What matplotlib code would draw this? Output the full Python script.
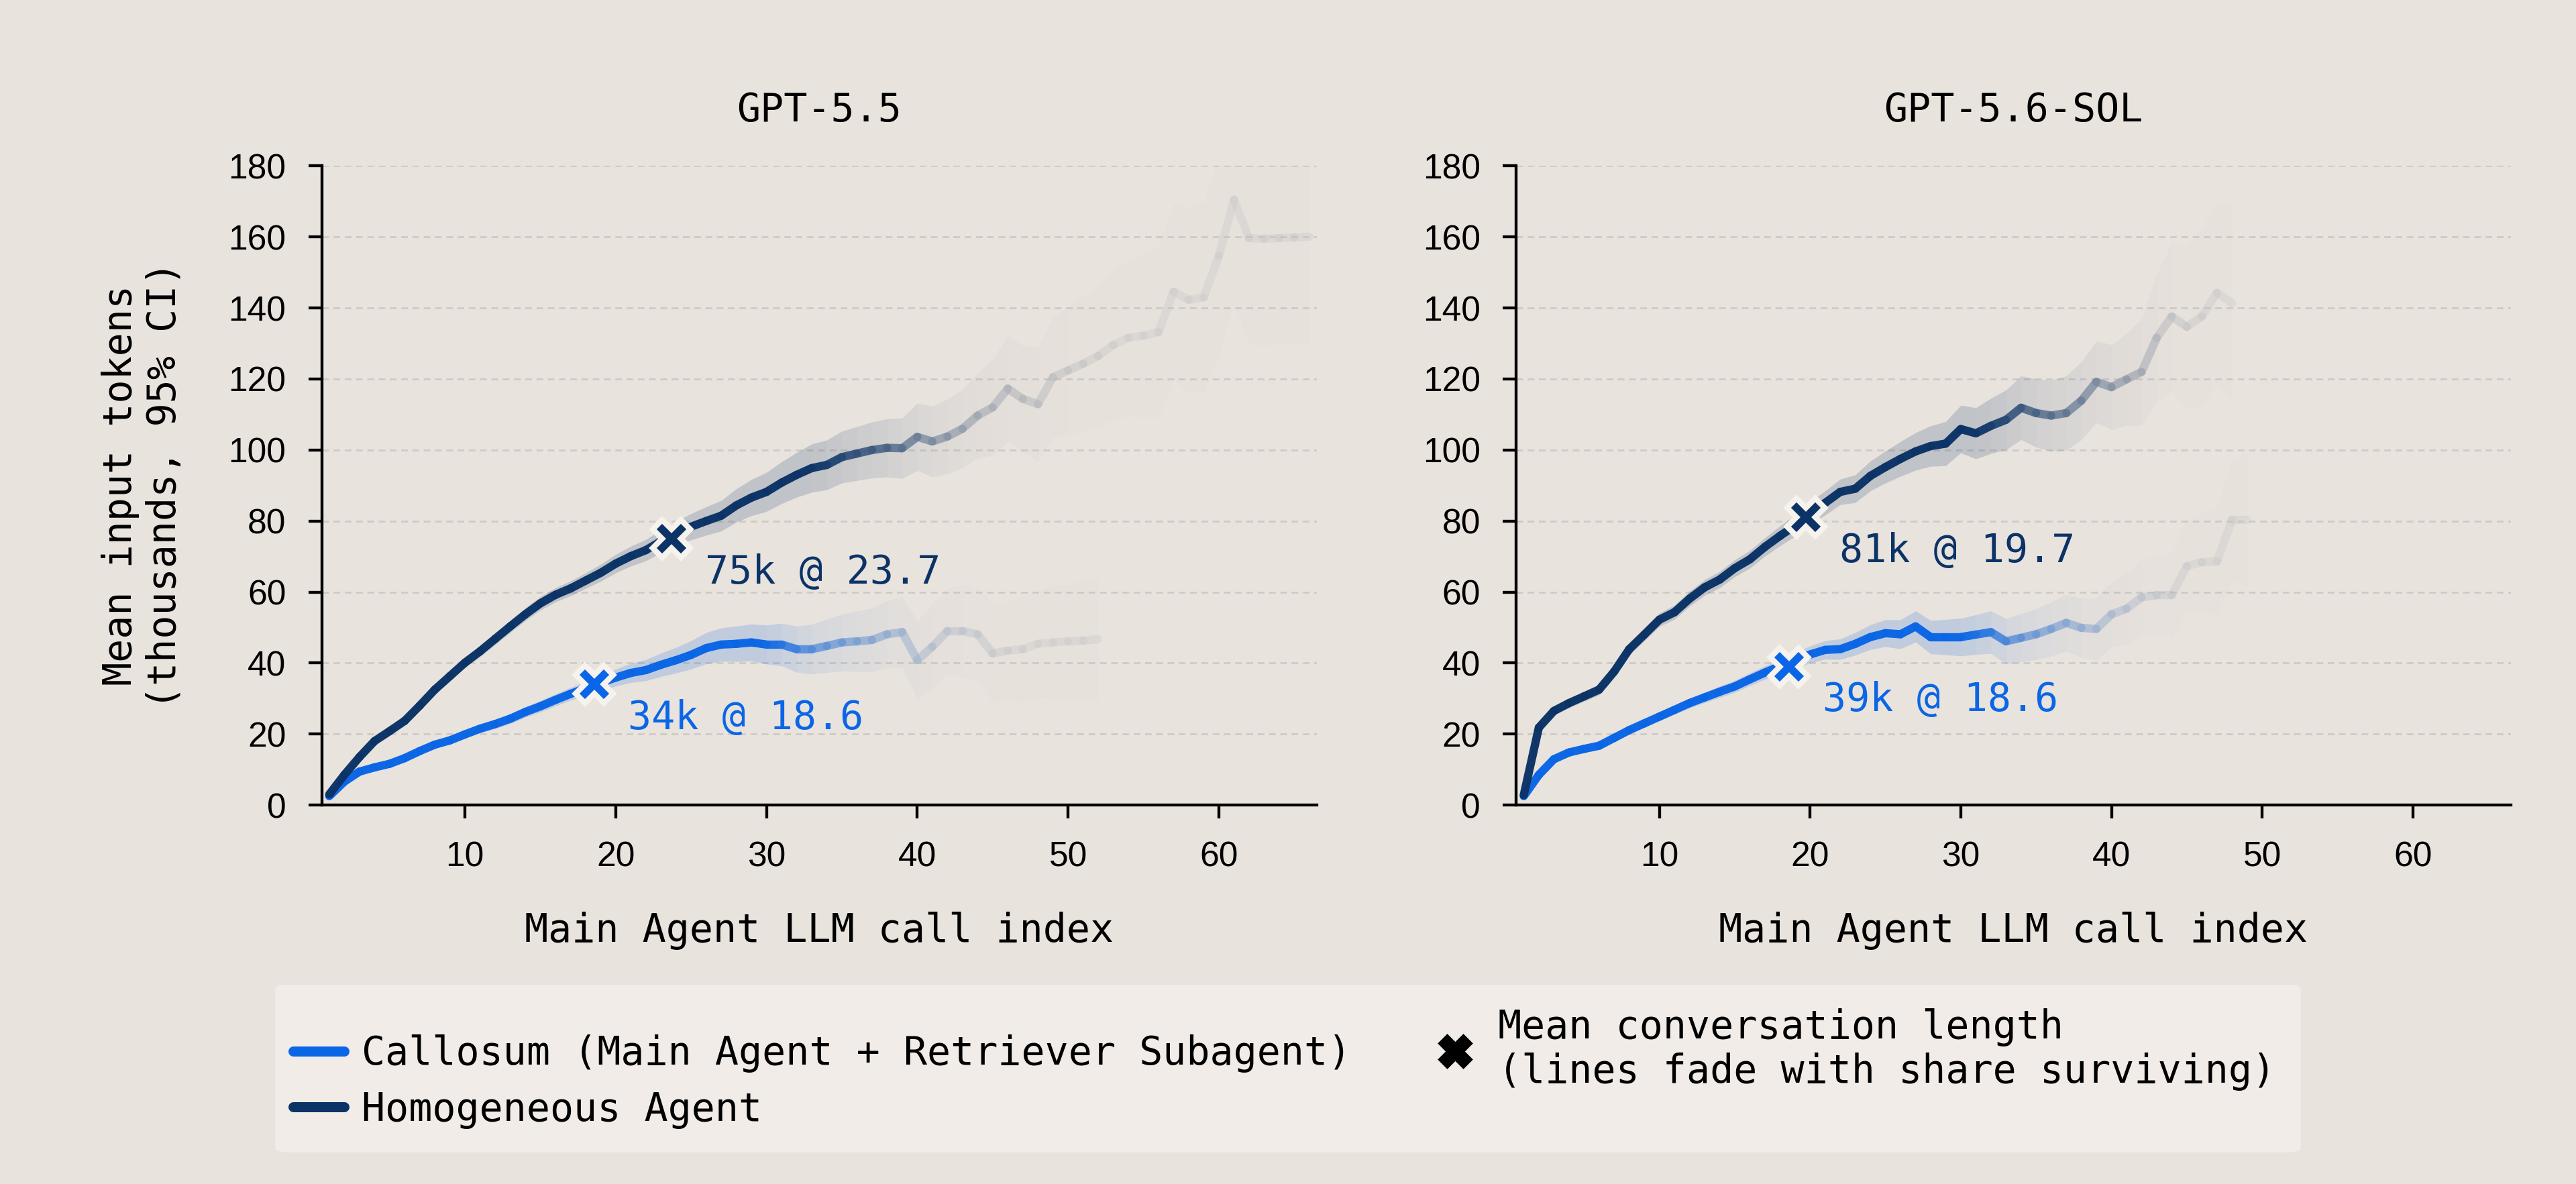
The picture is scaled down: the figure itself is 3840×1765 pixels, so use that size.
import numpy as np
import matplotlib.pyplot as plt
from matplotlib.colors import to_rgb
from matplotlib.lines import Line2D
from matplotlib.patches import FancyBboxPatch

BG = '#e9e3dd'
BOX = '#f1ece7'
BLUE = '#0a66e6'
NAVY = '#0b3366'
FADE = '#c2c2c2'
GRID = '#cdc9c5'
MONO = 'DejaVu Sans Mono'
SANS = 'Liberation Sans'

panel_titles = ['GPT-5.5', 'GPT-5.6-SOL']
series_names = ['Callosum (Main Agent + Retriever Subagent)', 'Homogeneous Agent']

# mean input tokens (thousands) per main-agent call index, starting at 1
gpt55_callosum = [2.5, 6.6, 9.4, 10.6, 11.6, 13.2, 15.2, 17.0, 18.2, 19.9,
                  21.5, 22.8, 24.3, 26.2, 27.8, 29.6, 31.3, 32.9, 34.4, 35.9,
                  37.2, 38.0, 39.5, 40.8, 42.3, 44.2, 45.2, 45.4, 45.8, 45.2,
                  45.2, 43.9, 43.9, 44.8, 45.8, 46.1, 46.5, 48.1, 48.7, 40.8,
                  44.6, 49.0, 49.0, 48.1, 42.7, 43.5, 43.9, 45.4, 45.8, 46.1,
                  46.3, 46.7]
gpt55_homog = [3.0, 8.5, 13.5, 18.0, 20.8, 23.7, 28.0, 32.5, 36.3, 40.1,
               43.3, 46.8, 50.3, 53.7, 56.8, 59.2, 61.0, 63.2, 65.4, 68.0,
               70.1, 71.8, 74.3, 76.5, 78.4, 80.0, 81.5, 84.4, 86.6, 88.2,
               90.8, 93.0, 94.9, 95.8, 98.0, 99.0, 100.0, 100.6, 100.5, 103.7,
               102.4, 103.8, 106.0, 109.7, 112.0, 117.3, 114.4, 112.9, 120.5, 122.4,
               124.3, 126.5, 129.6, 131.6, 132.2, 133.2, 144.6, 142.3, 143.0, 154.7,
               170.5, 159.7, 159.5, 159.7, 159.9, 160.1]
gpt56_callosum = [2.5, 8.5, 12.9, 14.8, 15.8, 16.7, 18.9, 21.1, 23.0, 24.9,
                  26.8, 28.7, 30.3, 31.9, 33.4, 35.4, 37.3, 39.1, 40.8, 42.4,
                  43.7, 43.9, 45.4, 47.3, 48.4, 48.1, 50.3, 47.3, 47.3, 47.3,
                  48.0, 48.7, 46.1, 47.1, 48.1, 49.6, 51.3, 49.9, 49.6, 53.7,
                  55.3, 58.5, 59.1, 59.1, 67.3, 68.4, 68.6, 80.3, 80.3]
gpt56_homog = [2.8, 21.8, 26.5, 28.7, 30.6, 32.5, 37.6, 43.9, 48.0, 52.2,
               54.3, 58.1, 61.3, 63.5, 66.7, 69.2, 72.7, 75.8, 78.7, 82.2,
               85.1, 88.2, 89.1, 92.7, 95.2, 97.5, 99.6, 101.1, 101.8, 105.9,
               104.7, 106.8, 108.5, 111.9, 110.4, 109.7, 110.4, 113.9, 119.2, 117.7,
               119.9, 122.0, 131.6, 137.6, 134.7, 137.6, 144.3, 141.4]

# 95% CI half-widths (thousands)
gpt55_callosum_ci = [0.3, 0.4, 0.5, 0.6, 0.7, 0.8, 0.9, 1.0, 1.0, 1.1,
                     1.2, 1.3, 1.4, 1.5, 1.6, 1.7, 1.8, 2.0, 2.2, 2.4,
                     2.7, 3.0, 3.3, 3.6, 4.0, 4.4, 4.7, 5.0, 5.2, 5.5,
                     6.0, 6.5, 7.0, 7.5, 8.0, 8.5, 9.0, 9.5, 10, 11,
                     12, 12, 13, 13, 14, 14, 15, 15, 16, 16,
                     17, 17]
gpt55_homog_ci = [0.3, 0.5, 0.7, 0.8, 0.9, 1.0, 1.1, 1.2, 1.3, 1.4,
                  1.5, 1.6, 1.7, 1.8, 1.9, 2.0, 2.1, 2.2, 2.4, 2.6,
                  2.8, 3.0, 3.2, 3.4, 3.7, 4.0, 4.3, 4.7, 5.1, 5.5,
                  5.9, 6.3, 6.8, 7.0, 7.3, 7.6, 7.9, 8.2, 8.5, 9.5,
                  10, 10.5, 11, 12, 13.5, 15, 15, 16, 17, 18,
                  19, 20, 21, 22, 23, 24, 25, 26, 27, 28,
                  29, 30, 30, 30, 30, 30]
gpt56_callosum_ci = [0.3, 0.5, 0.6, 0.7, 0.8, 0.9, 1.0, 1.0, 1.1, 1.2,
                     1.3, 1.4, 1.5, 1.6, 1.7, 1.8, 1.9, 2.0, 2.2, 2.4,
                     2.6, 2.9, 3.2, 3.5, 3.8, 4.1, 4.4, 4.7, 5.0, 5.3,
                     5.6, 6.0, 6.4, 6.8, 7.2, 7.6, 8.0, 8.4, 8.8, 9.2,
                     10, 10.5, 11, 12, 13, 14, 15, 17, 19]
gpt56_homog_ci = [0.3, 1.0, 1.2, 1.3, 1.4, 1.5, 1.6, 1.7, 1.8, 1.9,
                  2.0, 2.1, 2.2, 2.3, 2.4, 2.5, 2.6, 2.8, 3.0, 3.2,
                  3.4, 3.6, 3.9, 4.2, 4.5, 4.9, 5.3, 5.7, 6.2, 6.7,
                  7.2, 7.8, 8.4, 9.0, 9.6, 10, 10.5, 11, 11.5, 12,
                  13, 15, 18, 21, 23, 25, 26, 27]

# share of conversations still running at each call index
gpt55_callosum_share = [1.00, 0.99, 0.97, 0.95, 0.93, 0.90, 0.87, 0.84, 0.80, 0.76,
                        0.72, 0.68, 0.64, 0.60, 0.56, 0.52, 0.48, 0.44, 0.41, 0.38,
                        0.35, 0.32, 0.30, 0.28, 0.26, 0.24, 0.23, 0.22, 0.21, 0.20,
                        0.18, 0.16, 0.14, 0.13, 0.12, 0.11, 0.10, 0.09, 0.08, 0.07,
                        0.06, 0.055, 0.05, 0.045, 0.04, 0.036, 0.032, 0.029, 0.026, 0.023,
                        0.02, 0.018]
gpt55_homog_share = [1.00, 0.99, 0.98, 0.97, 0.95, 0.93, 0.91, 0.88, 0.85, 0.82,
                     0.78, 0.74, 0.70, 0.66, 0.62, 0.58, 0.54, 0.50, 0.46, 0.43,
                     0.40, 0.37, 0.34, 0.32, 0.30, 0.28, 0.26, 0.25, 0.24, 0.23,
                     0.22, 0.21, 0.20, 0.19, 0.18, 0.17, 0.16, 0.15, 0.14, 0.12,
                     0.11, 0.10, 0.09, 0.08, 0.07, 0.065, 0.06, 0.055, 0.05, 0.045,
                     0.04, 0.036, 0.032, 0.029, 0.026, 0.023, 0.021, 0.019, 0.017, 0.015,
                     0.013, 0.012, 0.011, 0.010, 0.009, 0.008]
gpt56_callosum_share = [1.00, 0.99, 0.97, 0.95, 0.93, 0.90, 0.87, 0.84, 0.80, 0.76,
                        0.72, 0.68, 0.64, 0.60, 0.56, 0.52, 0.48, 0.44, 0.41, 0.38,
                        0.35, 0.32, 0.30, 0.28, 0.26, 0.24, 0.23, 0.22, 0.21, 0.20,
                        0.19, 0.17, 0.15, 0.13, 0.12, 0.11, 0.10, 0.09, 0.08, 0.07,
                        0.06, 0.05, 0.045, 0.04, 0.035, 0.03, 0.026, 0.022, 0.02]
gpt56_homog_share = [1.00, 0.99, 0.97, 0.95, 0.93, 0.90, 0.87, 0.84, 0.80, 0.76,
                     0.72, 0.68, 0.64, 0.60, 0.56, 0.52, 0.48, 0.45, 0.42, 0.39,
                     0.36, 0.33, 0.31, 0.29, 0.27, 0.25, 0.24, 0.23, 0.22, 0.21,
                     0.20, 0.19, 0.18, 0.16, 0.15, 0.14, 0.13, 0.12, 0.11, 0.10,
                     0.09, 0.08, 0.06, 0.05, 0.04, 0.035, 0.03, 0.025]

# mean conversation length markers: (call index, thousands of tokens)
mean_len = [[18.6, 23.7], [18.6, 19.7]]
mean_tok = [[34, 75], [39, 81]]

panel_data = [
    [(gpt55_callosum, gpt55_callosum_ci, gpt55_callosum_share),
     (gpt55_homog, gpt55_homog_ci, gpt55_homog_share)],
    [(gpt56_callosum, gpt56_callosum_ci, gpt56_callosum_share),
     (gpt56_homog, gpt56_homog_ci, gpt56_homog_share)],
]
colors = [BLUE, NAVY]


def strength(s):
    # how much of the original colour is kept, from the surviving share
    return float(np.clip((s - 0.03) / 0.17, 0, 1))


def mix(c, w):
    a = np.array(to_rgb(c))
    b = np.array(to_rgb(FADE))
    return tuple(w * a + (1 - w) * b)


def draw_series(ax, y, ci, share, color):
    y = np.array(y)
    ci = np.array(ci)
    x = np.arange(1, len(y) + 1)
    for i in range(len(y) - 1):
        w = strength(0.5 * (share[i] + share[i + 1]))
        ax.fill_between(x[i:i + 2], (y - ci)[i:i + 2], (y + ci)[i:i + 2],
                        color=mix(color, w), alpha=0.03 + 0.15 * w, lw=0, zorder=1)
    for i in range(len(y) - 1):
        w = strength(0.5 * (share[i] + share[i + 1]))
        ax.plot(x[i:i + 2], y[i:i + 2], color=mix(color, w), alpha=0.3 + 0.68 * w,
                lw=3.7, solid_capstyle='round', zorder=3)


fig = plt.figure(figsize=(16, 1765 / 240), facecolor=BG)
axes = [fig.add_axes([0.1249, 0.3201, 0.3863, 0.5397]),
        fig.add_axes([0.5886, 0.3201, 0.3861, 0.5397])]

for p, ax in enumerate(axes):
    ax.set_facecolor(BG)
    for s, (y, ci, share) in enumerate(panel_data[p]):
        draw_series(ax, y, ci, share, colors[s])
    for s in range(2):
        mx, my = mean_len[p][s], mean_tok[p][s]
        ax.plot(mx, my, marker='X', ms=17, color=colors[s], mec='#f6f2ee', mew=2.5, zorder=6)
        ax.annotate(f'{my}k @ {mx}', (mx, my), xytext=(15, -15), textcoords='offset points',
                    ha='left', va='center', color=colors[s], fontsize=17.5, family=MONO, zorder=6)

    ax.set_xlim(0.5, 66.5)
    ax.set_ylim(0, 180)
    ax.set_xticks([10, 20, 30, 40, 50, 60])
    ax.set_yticks(range(0, 181, 20))
    ax.grid(axis='y', color=GRID, lw=0.8, ls=(0, (3.7, 2.6)), zorder=0)
    ax.set_axisbelow(True)
    for side in ['top', 'right']:
        ax.spines[side].set_visible(False)
    for side in ['left', 'bottom']:
        ax.spines[side].set_linewidth(1.3)
    ax.tick_params(length=6, width=1.3, pad=10, labelsize=15.5)
    for lab in ax.get_xticklabels() + ax.get_yticklabels():
        lab.set_family(SANS)
    ax.set_title(panel_titles[p], fontsize=17.5, family=MONO, pad=20)
    ax.set_xlabel('Main Agent LLM call index', fontsize=17.5, family=MONO, labelpad=17)

axes[0].set_ylabel('Mean input tokens\n(thousands, 95% CI)', fontsize=17.5, family=MONO, labelpad=20)

# legend
fig.patches.append(FancyBboxPatch((0.1068, 0.0268), 0.7864, 0.1415, transform=fig.transFigure,
                                  boxstyle='round,pad=0,rounding_size=0.004', fc=BOX, ec='none', zorder=0))
handles = [Line2D([], [], color=BLUE, lw=4.5, solid_capstyle='round'),
           Line2D([], [], color=NAVY, lw=4.5, solid_capstyle='round'),
           Line2D([], [], ls='none', marker='X', ms=14.5, color='black')]
labels = series_names + ['Mean conversation length\n(lines fade with share surviving)']
fig.legend(handles, labels, ncol=2, loc='center', bbox_to_anchor=(0.4987, 0.0975),
           frameon=False, prop={'family': MONO, 'size': 17.5}, handlelength=1.3,
           handletextpad=0.45, columnspacing=2.0, labelspacing=0.45)

fig.savefig('out.png', dpi=240, facecolor=BG)
